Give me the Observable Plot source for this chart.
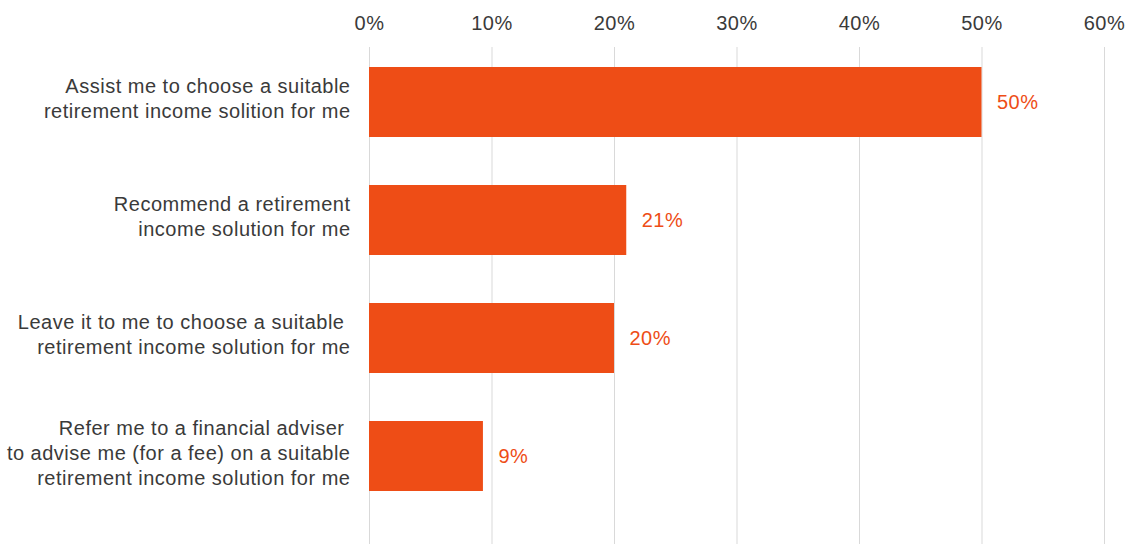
<!DOCTYPE html>
<html>
<head>
<meta charset="utf-8">
<script src="https://cdn.jsdelivr.net/npm/d3@7"></script>
<script src="https://cdn.jsdelivr.net/npm/@observablehq/plot@0.6"></script>
<style>
  body { margin: 0; background: #fff; }
  #chart svg { display: block; }
  #chart svg text { letter-spacing: 0.5px; }
</style>
</head>
<body>
<div id="chart"></div>
<script>
const categories = [
  "Assist me to choose a suitable\nretirement income solition for me",
  "Recommend a retirement\nincome solution for me",
  "Leave it to me to choose a suitable\u00a0\nretirement income solution for me",
  "Refer me to a financial adviser\u00a0\nto advise me (for a fee) on a suitable\nretirement income solution for me"
];
const values = [50, 21, 20, 9.3];
const valueLabels = ["50%", "21%", "20%", "9%"];
const xTicks = [0, 10, 20, 30, 40, 50, 60];

const data = categories.map((c, i) => ({category: c, value: values[i], label: valueLabels[i]}));

const orange = "#ee4d16";
const font = "'Liberation Sans', Arial, Helvetica, sans-serif";

const chart = Plot.plot({
  width: 1125,
  height: 544,
  marginTop: 47,
  marginBottom: 0,
  marginLeft: 369,
  marginRight: 21,
  style: {fontFamily: font, fontSize: "20px", color: "#3a3a3a", background: "#fff"},
  x: {domain: [0, 60], ticks: xTicks, tickFormat: d => d + "%", axis: null},
  y: {domain: categories, axis: null, paddingInner: 0.407, paddingOuter: 0.309, align: 0.274},
  marks: [
    Plot.ruleX(xTicks, {stroke: "#d9d9d9", strokeWidth: 1}),
    Plot.axisX({
      anchor: "top", ticks: xTicks, tickSize: 0, tickPadding: 18,
      tickFormat: d => d + "%", fontSize: 20, fill: "#3a3a3a", label: null
    }),
    Plot.barX(data, {x: "value", y: "category", fill: orange}),
    Plot.text(data, {
      x: "value", y: "category", text: "label", textAnchor: "start", dx: 15,
      fill: orange, fontSize: 20
    }),
    Plot.text(data, {
      x: 0, y: "category", text: "category", textAnchor: "end", dx: -19, dy: -5,
      fill: "#3a3a3a", fontSize: 20, lineHeight: 1.25
    })
  ]
});

document.getElementById("chart").appendChild(chart);
</script>
</body>
</html>
